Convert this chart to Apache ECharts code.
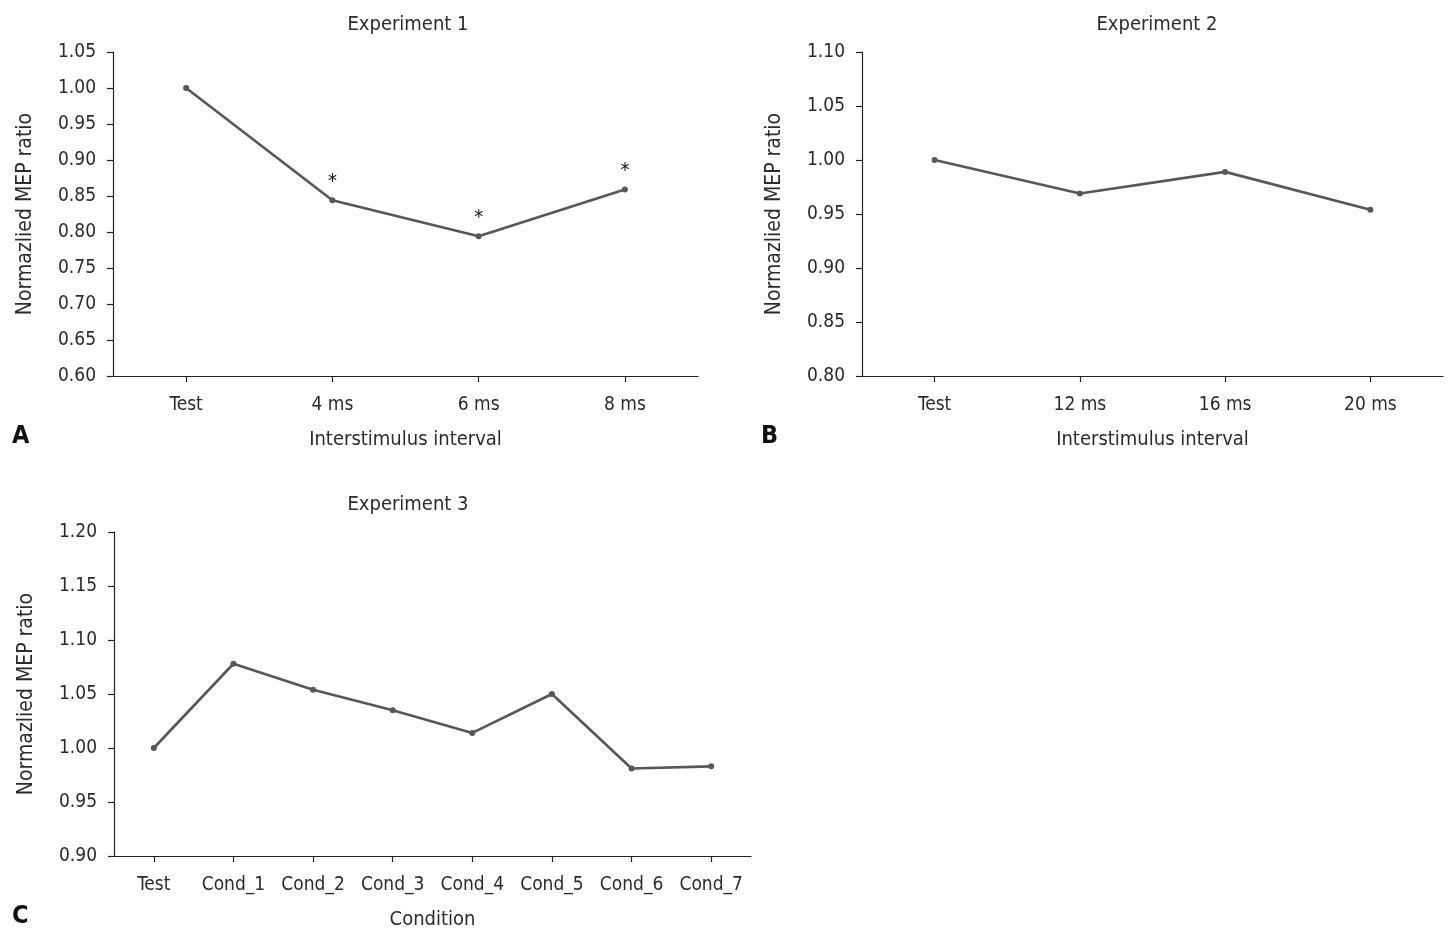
<!DOCTYPE html>
<html>
<head>
<meta charset="utf-8">
<script src="https://cdn.jsdelivr.net/npm/echarts@6/dist/echarts.min.js"></script>
<style>
html,body{margin:0;padding:0;background:#fff;}
#chart{width:1454px;height:941px;}
</style>
</head>
<body>
<div id="chart"></div>
<script>
// ---- data ----
const catsA = ['Test', '4 ms', '6 ms', '8 ms'];
const valsA = [1.000, 0.844, 0.794, 0.859];
const sigA = ['', '*', '*', '*'];

const catsB = ['Test', '12 ms', '16 ms', '20 ms'];
const valsB = [1.000, 0.969, 0.989, 0.954];

const catsC = ['Test', 'Cond_1', 'Cond_2', 'Cond_3', 'Cond_4', 'Cond_5', 'Cond_6', 'Cond_7'];
const valsC = [1.000, 1.078, 1.054, 1.035, 1.014, 1.050, 0.981, 0.983];

const titles = ['Experiment 1', 'Experiment 2', 'Experiment 3'];
const yName = 'Normazlied MEP ratio';
const xNames = ['Interstimulus interval', 'Interstimulus interval', 'Condition'];
const panelLetters = ['A', 'B', 'C'];

// ---- style ----
const FONT = '"DejaVu Sans Condensed", "Roboto", sans-serif';
const TXT = '#2b2b2b';
const LINE = '#575757';

const grids = [
  {left: 113, top: 52, width: 585, height: 324},
  {left: 862, top: 52, width: 581, height: 324},
  {left: 114, top: 532, width: 637, height: 324}
];
const titleX = [403, 1152, 403];
const yRanges = [[0.60, 1.05], [0.80, 1.10], [0.90, 1.20]];

const chart = echarts.init(document.getElementById('chart'), null, {renderer: 'canvas'});

const axisLine = {show: true, lineStyle: {color: '#222', width: 1.2}};
const axisTick = {show: true, length: 6, lineStyle: {color: '#222', width: 1.2}};

const xAxis = [catsA, catsB, catsC].map((c, i) => ({
  type: 'category', gridIndex: i, data: c, boundaryGap: true,
  axisLine: axisLine,
  axisTick: Object.assign({alignWithLabel: true, interval: 0}, axisTick),
  axisLabel: {color: TXT, fontFamily: FONT, fontSize: 19, margin: 20, interval: 0},
  name: xNames[i], nameLocation: 'middle', nameGap: 54,
  nameTextStyle: {color: TXT, fontFamily: FONT, fontSize: 20}
}));

const yAxis = yRanges.map((r, i) => ({
  type: 'value', gridIndex: i, min: r[0], max: r[1], interval: 0.05,
  axisLine: axisLine, axisTick: axisTick, splitLine: {show: false},
  axisLabel: {color: TXT, fontFamily: FONT, fontSize: 19, margin: 17,
    formatter: v => v.toFixed(2)},
  name: yName, nameLocation: 'middle', nameGap: 77,
  nameTextStyle: {color: TXT, fontFamily: FONT, fontSize: 21}
}));

function lineSeries(i, vals, sig) {
  return {
    type: 'line', xAxisIndex: i, yAxisIndex: i,
    data: vals.map((v, k) => ({
      value: v,
      label: (sig && sig[k]) ? {show: true, formatter: sig[k], position: 'top', distance: 6,
        color: '#111', fontFamily: FONT, fontSize: 20} : {show: false}
    })),
    symbol: 'circle', symbolSize: 6,
    lineStyle: {color: LINE, width: 2.6},
    itemStyle: {color: LINE},
    silent: true, animation: false
  };
}

const option = {
  backgroundColor: '#fff',
  animation: false,
  title: titles.map((t, i) => ({
    text: t, left: titleX[i], top: grids[i].top - 42,
    textAlign: 'center',
    textStyle: {color: TXT, fontFamily: FONT, fontSize: 20, fontWeight: 'normal'}
  })),
  grid: grids,
  xAxis: xAxis,
  yAxis: yAxis,
  series: [lineSeries(0, valsA, sigA), lineSeries(1, valsB, null), lineSeries(2, valsC, null)],
  graphic: [
    {type: 'text', left: 12, top: 424, style: {text: panelLetters[0], font: 'bold 25px ' + FONT, fill: '#111'}},
    {type: 'text', left: 761, top: 424, style: {text: panelLetters[1], font: 'bold 25px ' + FONT, fill: '#111'}},
    {type: 'text', left: 12, top: 904, style: {text: panelLetters[2], font: 'bold 25px ' + FONT, fill: '#111'}}
  ]
};
chart.setOption(option);
</script>
</body>
</html>
